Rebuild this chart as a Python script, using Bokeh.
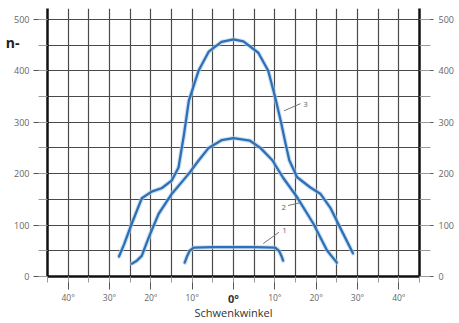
from bokeh.plotting import figure
from bokeh.models import Range1d, LinearAxis, SingleIntervalTicker, FixedTicker
from bokeh.core.properties import value
from bokeh.embed import file_html
from bokeh.resources import INLINE

# Curve 3 (highest)
c3_x = [-27.7, -26.5, -24.6, -22.2, -19.8, -17.3, -14.9, -13.3, -12.0, -10.8, -8.4, -6.0, -2.9, 0.0,
        2.4, 6.0, 8.4, 10.1, 11.5, 12.5, 13.5, 15.4, 18.6, 21.0, 23.4, 25.8, 28.9]
c3_y = [39, 62, 103, 152, 165, 172, 187, 212, 275, 342, 401, 437, 456, 461,
        457, 435, 400, 348, 300, 262, 226, 193, 173, 161, 134, 95, 45]
# Curve 2 (middle)
c2_x = [-24.6, -23.5, -22.2, -20.5, -18.1, -14.9, -10.8, -8.4, -6.0, -2.9, 0.0,
        4.0, 6.5, 9.4, 12.0, 15.4, 19.3, 22.6, 25.0]
c2_y = [25, 30, 40, 76, 122, 161, 200, 226, 250, 265, 269,
        264, 250, 226, 192, 154, 103, 51, 27]
# Curve 1 (flat)
c1_x = [-11.8, -11.2, -10.6, -9.6, -5.0, 0.0, 5.0, 10.1, 11.0, 11.6, 12.0]
c1_y = [27, 40, 50, 56, 57, 57, 57, 56, 50, 40, 31]

# Curve labels and leader lines
lab_text = ["3", "2", "1"]
lab_x = [16.9, 11.6, 11.8]
lab_y = [335, 134, 90]
lead_x0 = [12.2, 13.2, 7.2]
lead_y0 = [322, 138, 64]
lead_x1 = [16.2, 16.0, 11.0]
lead_y1 = [336, 143, 86]

x_tick_labels = {-40: "40°", -30: "30°", -20: "20°", -10: "10°", 0: "",
                 10: "10°", 20: "20°", 30: "30°", 40: "40°"}
zero_tick = [0]
zero_label = {0: "0°"}
unit_tick = [455]
unit_label = {455: "n-"}

FONT = "Open Sans"
BLUE = "#2f6fb3"
GRID = "#4a4a4a"

p = figure(frame_width=372, frame_height=268, x_range=Range1d(-45, 45), y_range=Range1d(0, 521),
           output_backend="svg", toolbar_location=None,
           min_border_left=47, min_border_right=31, min_border_top=8, min_border_bottom=39)
p.outline_line_color = None
p.background_fill_color = "white"

p.xgrid.ticker = SingleIntervalTicker(interval=5)
p.ygrid.ticker = SingleIntervalTicker(interval=50)
for g in (p.xgrid, p.ygrid):
    g.grid_line_color = GRID
    g.grid_line_width = 1.2

p.yaxis.ticker = SingleIntervalTicker(interval=100, num_minor_ticks=2)
ax_r = LinearAxis(ticker=SingleIntervalTicker(interval=100, num_minor_ticks=2))
p.add_layout(ax_r, "right")
for ax in (p.yaxis[0], ax_r):
    ax.axis_line_width = 2.5
    ax.axis_line_color = "#111111"
    ax.major_tick_in = 0
    ax.minor_tick_in = 0
    ax.major_tick_line_color = "#555555"
    ax.minor_tick_line_color = "#999999"
    ax.major_label_text_font = FONT
    ax.major_label_text_font_size = "9px"
    ax.major_label_text_color = "#666666"
p.yaxis[0].major_tick_out = 14
p.yaxis[0].minor_tick_out = 9
p.yaxis[0].major_label_standoff = 4
ax_r.major_tick_out = 14
ax_r.minor_tick_out = 11
ax_r.major_label_standoff = 5

# unit label "n-" as an extra left axis with one tick
ax_n = LinearAxis(ticker=FixedTicker(ticks=unit_tick), major_label_overrides=unit_label)
ax_n.axis_line_color = None
ax_n.major_tick_line_color = None
ax_n.minor_tick_line_color = None
ax_n.major_tick_out = 0
ax_n.major_tick_in = 0
ax_n.major_label_standoff = -8
ax_n.major_label_text_font = FONT
ax_n.major_label_text_font_size = "14px"
ax_n.major_label_text_font_style = "bold"
ax_n.major_label_text_color = "#222222"
p.add_layout(ax_n, "left")

xa = p.xaxis[0]
xa.ticker = SingleIntervalTicker(interval=10, num_minor_ticks=2)
xa.major_label_overrides = x_tick_labels
xa.axis_line_width = 2.5
xa.axis_line_color = "#111111"
xa.major_tick_out = 13
xa.major_tick_in = 0
xa.minor_tick_out = 6
xa.minor_tick_in = 0
xa.major_tick_line_color = "#555555"
xa.minor_tick_line_color = "#999999"
xa.major_label_text_font = FONT
xa.major_label_text_font_size = "8.5px"
xa.major_label_text_color = "#666666"
xa.major_label_standoff = 2

# bold "0°" and the axis title on a second bottom axis
ax_0 = LinearAxis(ticker=FixedTicker(ticks=zero_tick), major_label_overrides=zero_label)
ax_0.axis_line_color = None
ax_0.major_tick_line_color = None
ax_0.minor_tick_line_color = None
ax_0.major_tick_out = 0
ax_0.major_tick_in = 0
ax_0.major_label_standoff = -15
ax_0.major_label_text_font = FONT
ax_0.major_label_text_font_size = "11px"
ax_0.major_label_text_font_style = "bold"
ax_0.major_label_text_color = "#333333"
ax_0.axis_label = "Schwenkwinkel"
ax_0.axis_label_text_font = FONT
ax_0.axis_label_text_font_size = "11px"
ax_0.axis_label_text_font_style = "normal"
ax_0.axis_label_text_color = "#333333"
ax_0.axis_label_standoff = -4
p.add_layout(ax_0, "below")

for xs, ys in ((c3_x, c3_y), (c2_x, c2_y), (c1_x, c1_y)):
    p.line(xs, ys, line_color="#a9cdee", line_width=4.5, line_alpha=0.6, line_join="round", line_cap="round")
    p.line(xs, ys, line_color=BLUE, line_width=2.3, line_join="round", line_cap="round")

p.segment(x0=lead_x0, y0=lead_y0, x1=lead_x1, y1=lead_y1, line_color="#777777", line_width=1)
p.text(x=lab_x, y=lab_y, text=lab_text, text_font=value(FONT), text_font_size="8px",
       text_color="#666666", text_align="left", text_baseline="middle")

open("out.html", "w").write(file_html(p, INLINE))
